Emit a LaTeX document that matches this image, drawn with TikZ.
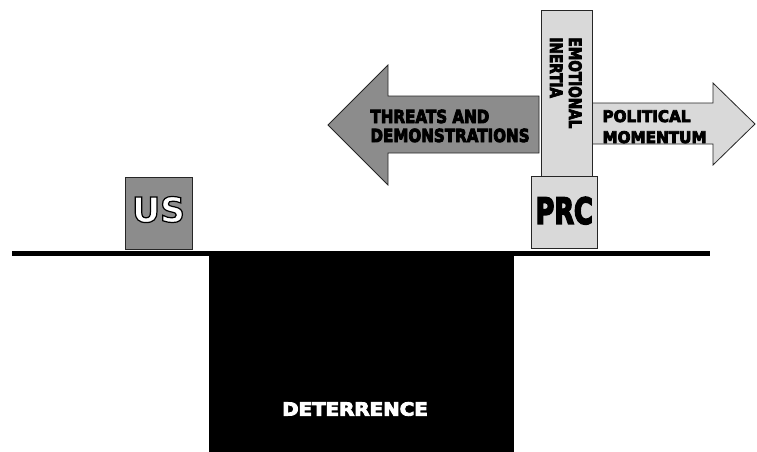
\documentclass[tikz,border=0pt]{standalone}
\usepackage{fontspec}
% heavy sans for all labels
\newfontfamily\lblfont{DejaVu Sans Bold}[FakeBold=5]
% outlined face for the US label: white fill, black stroke
\newfontfamily\outlinefont{DejaVu Sans Bold}[FakeBold=3.5]
\definecolor{darkpanel}{HTML}{8C8C8C}
\definecolor{palepanel}{HTML}{D9D9D9}
\definecolor{edge}{HTML}{262626}

\begin{document}
\begin{tikzpicture}[x=1pt,y=-1pt,
  panel/.style={draw=edge, line width=0.8pt},
  lbl/.style={inner sep=0pt, outer sep=0pt},
  sz/.style={font=\lblfont\fontsize{#1}{#1}\selectfont}]
\useasboundingbox (0,0) rectangle (757,452);

% the pit below the ground line
\fill[black] (209,255) rectangle (514,452);
\fill[black] (12,251) rectangle (710,256);

% pushing arrows
\filldraw[panel, fill=darkpanel] (539,96) -- (388,96) -- (388,65) -- (328,125)
  -- (388,185) -- (388,153) -- (539,153) -- cycle;
\filldraw[panel, fill=palepanel] (592,103) -- (713,103) -- (713,83) -- (755,124)
  -- (713,165) -- (713,144) -- (592,144) -- cycle;

% blocks standing on the ground
\filldraw[panel, fill=palepanel] (541,10) rectangle (592,176);
\filldraw[panel, fill=palepanel] (531,176) rectangle (597,248);
\filldraw[panel, fill=darkpanel] (125,177) rectangle (192,249);

% labels
\node[lbl, font=\outlinefont\fontsize{34.5}{34.5}\selectfont] (us) at (158.5,209.5)
  {\color{white}\special{pdf:literal direct 0 G}US};
\node[lbl, sz=36, text=black] (prc) at (564.2,210.7) {\scalebox{0.71}[1]{PRC}};
\node[lbl, sz=18, text=white] (det) at (355,409) {\scalebox{1.1}[1]{DETERRENCE}};

\node[lbl, sz=18, anchor=base west] (thr1) at (370.5,123) {\scalebox{0.84}[1]{THREATS AND}};
\node[lbl, sz=18, anchor=base west] (thr2) at (370.5,142) {\scalebox{0.84}[1]{DEMONSTRATIONS}};

\node[lbl, sz=16, anchor=base west] (pol1) at (602.5,122) {\scalebox{0.95}[1]{POLITICAL}};
\node[lbl, sz=16, anchor=base west] (pol2) at (602.5,143) {\scalebox{0.95}[1]{MOMENTUM}};

\node[lbl, sz=17, anchor=base west, rotate=-90] (emo1) at (569,37.5) {\scalebox{0.8}[1]{EMOTIONAL}};
\node[lbl, sz=17, anchor=base west, rotate=-90] (emo2) at (550,37.5) {\scalebox{0.8}[1]{INERTIA}};
\end{tikzpicture}
\end{document}
